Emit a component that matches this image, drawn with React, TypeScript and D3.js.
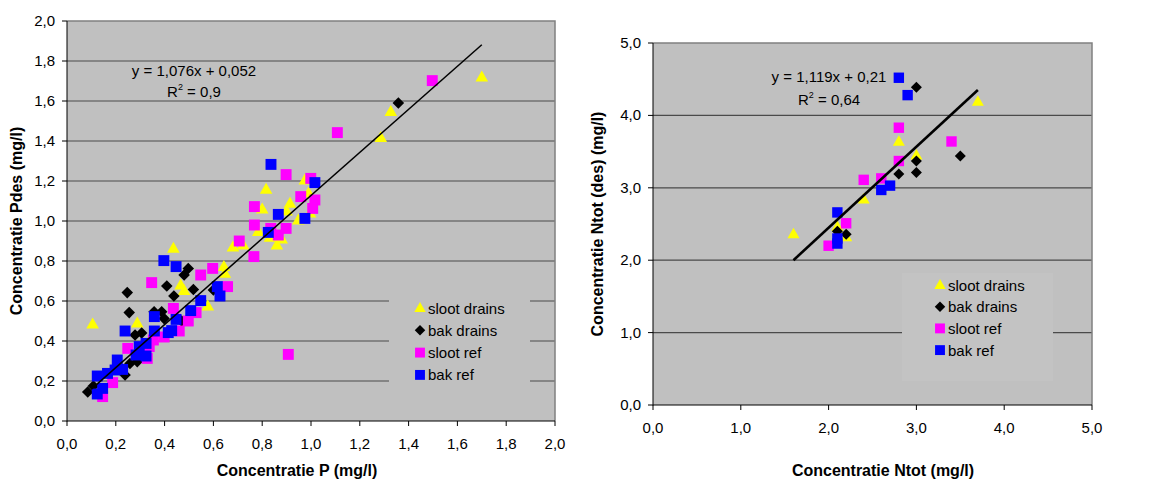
import * as d3 from "d3";

const FONT = "'Liberation Sans', Arial, sans-serif";

// ---- left chart: Concentratie P ----
const pSlootDrains: [number, number][] = [
  [1.70, 1.72], [1.327, 1.547], [1.286, 1.417], [0.816, 1.158], [0.975, 1.205],
  [0.80, 1.06], [0.914, 1.088], [0.99, 1.14], [0.90, 1.05], [0.948, 1.005],
  [0.996, 1.04], [0.784, 0.947], [0.832, 0.918], [0.86, 0.88], [0.88, 0.91],
  [0.68, 0.87], [0.722, 0.88], [0.436, 0.863], [0.643, 0.772], [0.647, 0.738],
  [0.466, 0.68], [0.48, 0.652], [0.577, 0.575], [0.288, 0.49], [0.105, 0.485],
];
const pBakDrains: [number, number][] = [
  [1.358, 1.59], [0.497, 0.763], [0.48, 0.73], [0.409, 0.675], [0.518, 0.658],
  [0.438, 0.625], [0.247, 0.642], [0.255, 0.542], [0.357, 0.546], [0.388, 0.546],
  [0.398, 0.512], [0.60, 0.655], [0.279, 0.43], [0.306, 0.44], [0.47, 0.50],
  [0.258, 0.288], [0.288, 0.297], [0.238, 0.23], [0.085, 0.145], [0.108, 0.175],
];
const pSlootRef: [number, number][] = [
  [1.497, 1.702], [1.108, 1.442], [0.898, 1.232], [0.999, 1.213], [0.958, 1.122],
  [1.016, 1.105], [1.007, 1.063], [0.768, 1.072], [0.768, 0.98], [0.835, 0.963],
  [0.898, 0.963], [0.866, 0.93], [0.706, 0.90], [0.766, 0.822], [0.597, 0.763],
  [0.548, 0.73], [0.658, 0.672], [0.347, 0.692], [0.436, 0.563], [0.529, 0.542],
  [0.497, 0.50], [0.46, 0.45], [0.398, 0.42], [0.354, 0.405], [0.337, 0.372],
  [0.329, 0.313], [0.249, 0.363], [0.187, 0.192], [0.146, 0.122], [0.907, 0.333],
];
const pBakRef: [number, number][] = [
  [0.836, 1.283], [1.016, 1.192], [0.866, 1.033], [0.975, 1.013], [0.825, 0.943],
  [0.397, 0.802], [0.447, 0.772], [0.616, 0.672], [0.627, 0.625], [0.548, 0.602],
  [0.507, 0.552], [0.447, 0.508], [0.358, 0.522], [0.358, 0.45], [0.415, 0.442],
  [0.429, 0.452], [0.238, 0.45], [0.296, 0.372], [0.324, 0.388], [0.324, 0.325],
  [0.283, 0.33], [0.206, 0.305], [0.228, 0.258], [0.197, 0.255], [0.166, 0.238],
  [0.124, 0.225], [0.146, 0.163], [0.124, 0.135],
];
const pTicks = [0, 0.2, 0.4, 0.6, 0.8, 1.0, 1.2, 1.4, 1.6, 1.8, 2.0];
const pTrend = { slope: 1.076, intercept: 0.052, from: 0.1, to: 1.7 };

// ---- right chart: Concentratie Ntot ----
const nSlootDrains: [number, number][] = [
  [1.6, 2.36], [2.1, 2.46], [2.2, 2.32], [2.4, 2.84], [2.8, 3.64], [3.0, 3.45], [3.7, 4.19],
];
const nBakDrains: [number, number][] = [
  [3.0, 4.39], [3.0, 3.37], [3.0, 3.21], [2.8, 3.19], [3.5, 3.44], [2.1, 2.40], [2.2, 2.36],
];
const nSlootRef: [number, number][] = [
  [2.8, 3.83], [2.8, 3.37], [3.4, 3.64], [2.4, 3.11], [2.6, 3.13], [2.2, 2.51], [2.0, 2.2],
];
const nBakRef: [number, number][] = [
  [2.8, 4.52], [2.9, 4.28], [2.6, 2.97], [2.7, 3.03], [2.1, 2.66], [2.1, 2.30], [2.1, 2.23],
];
const nTicks = [0, 1, 2, 3, 4, 5];
const nTrend = { slope: 1.119, intercept: 0.21, from: 1.6, to: 3.7 };

const seriesNames = ["sloot drains", "bak drains", "sloot ref", "bak ref"];
const seriesShapes = ["triangle", "diamond", "square", "square"];
const seriesColors = ["#ffff00", "#000000", "#ff00ff", "#0000ff"];

const fmt = (v: number) => d3.format(".1f")(v).replace(".", ",");

function Marker({ shape, color, x, y, s = 1 }: any) {
  if (shape === "triangle") {
    const h = 10.5 * s, w = 12 * s;
    return <path d={`M${x},${y - h * 0.6}L${x + w / 2},${y + h * 0.4}L${x - w / 2},${y + h * 0.4}Z`} fill={color} />;
  }
  if (shape === "diamond") {
    const r = 5.5 * s;
    return <path d={`M${x},${y - r}L${x + r},${y}L${x},${y + r}L${x - r},${y}Z`} fill={color} />;
  }
  const h = 5.2 * s;
  return <rect x={x - h} y={y - h} width={2 * h} height={2 * h} fill={color} />;
}

function Panel(props: any) {
  const { x0, x1, y0, y1, max, ticks, data, trend, eq, r2, eqX, eqY, r2dy, legend, xTitle, yTitle, xTitleX, yTitleX, trendWidth, legendFill, ms } = props;
  const x = d3.scaleLinear().domain([0, max]).range([x0, x1]);
  const y = d3.scaleLinear().domain([0, max]).range([y1, y0]);
  const line = d3.line<number>().x((d) => x(d)).y((d) => y(trend.slope * d + trend.intercept));
  return (
    <g fontFamily={FONT}>
      <rect x={x0} y={y0} width={x1 - x0} height={y1 - y0} fill="#c0c0c0" />
      {ticks.slice(1, -1).map((t: number) => (
        <line key={t} x1={x0} x2={x1} y1={y(t)} y2={y(t)} stroke="#4a4a4a" strokeWidth={1.2} />
      ))}
      <rect x={legend.x} y={legend.y} width={legend.w} height={legend.h} fill={legendFill} />
      <path d={`M${x0},${y0}H${x1}V${y1}`} fill="none" stroke="#808080" strokeWidth={1.5} />
      <line x1={x0} x2={x0} y1={y0} y2={y1 + 0.5} stroke="#000" />
      <line x1={x0} x2={x1} y1={y1} y2={y1} stroke="#000" />
      {ticks.map((t: number) => (
        <g key={"t" + t}>
          <line x1={x0 - 5} x2={x0} y1={y(t)} y2={y(t)} stroke="#000" />
          <line x1={x(t)} x2={x(t)} y1={y1} y2={y1 + 5} stroke="#000" />
          <text x={x0 - 12} y={y(t) + 5} textAnchor="end" fontSize={15}>{fmt(t)}</text>
          <text x={x(t)} y={y1 + 28} textAnchor="middle" fontSize={15}>{fmt(t)}</text>
        </g>
      ))}
      {data.map((pts: [number, number][], i: number) =>
        pts.map((p, j) => (
          <Marker key={i + "-" + j} shape={seriesShapes[i]} color={seriesColors[i]} x={x(p[0])} y={y(p[1])} s={ms} />
        ))
      )}
      <path d={line([trend.from, trend.to]) || ""} stroke="#000" strokeWidth={trendWidth} fill="none" />
      <text x={eqX} y={eqY} textAnchor="middle" fontSize={15}>{eq}</text>
      <text x={eqX} y={eqY + r2dy} textAnchor="middle" fontSize={15}>
        R<tspan fontSize={9} dy={-7}>2</tspan><tspan dy={7}>{" = " + r2}</tspan>
      </text>
      {seriesNames.map((n, i) => (
        <g key={n}>
          <Marker shape={seriesShapes[i]} color={seriesColors[i]} x={legend.mx} y={legend.my + i * legend.step} s={0.95} />
          <text x={legend.mx + 8} y={legend.my + i * legend.step + 5.5} fontSize={15}>{n}</text>
        </g>
      ))}
      <text x={xTitleX} y={476} textAnchor="middle" fontSize={16} fontWeight="bold">{xTitle}</text>
      <text transform={`translate(${yTitleX},${(y0 + y1) / 2}) rotate(-90)`} textAnchor="middle" fontSize={16} fontWeight="bold">{yTitle}</text>
    </g>
  );
}

export default function App() {
  return (
    <svg width={1153} height={481} style={{ position: "absolute", left: 0, top: 0, background: "#fff" }}>
      <Panel
        x0={67} x1={555} y0={21} y1={421} max={2} ticks={pTicks}
        data={[pSlootDrains, pBakDrains, pSlootRef, pBakRef]}
        trend={pTrend} trendWidth={1.5} ms={1.05}
        eq="y = 1,076x + 0,052" r2="0,9" eqX={194} eqY={76} r2dy={21}
        legend={{ x: 389, y: 289, w: 141, h: 103, mx: 420, my: 308, step: 22.3 }}
        legendFill="#c0c0c0"
        xTitle="Concentratie P (mg/l)" xTitleX={297}
        yTitle="Concentratie Pdes (mg/l)" yTitleX={22}
      />
      <Panel
        x0={653} x1={1092} y0={43} y1={405} max={5} ticks={nTicks}
        data={[nSlootDrains, nBakDrains, nSlootRef, nBakRef]}
        trend={nTrend} trendWidth={2.6} ms={1}
        eq="y = 1,119x + 0,21" r2="0,64" eqX={829} eqY={82} r2dy={23}
        legend={{ x: 902, y: 273, w: 151, h: 108, mx: 940, my: 285, step: 21.7 }}
        legendFill="#c3c3c3"
        xTitle="Concentratie Ntot (mg/l)" xTitleX={883}
        yTitle="Concentratie Ntot (des) (mg/l)" yTitleX={603}
      />
    </svg>
  );
}
